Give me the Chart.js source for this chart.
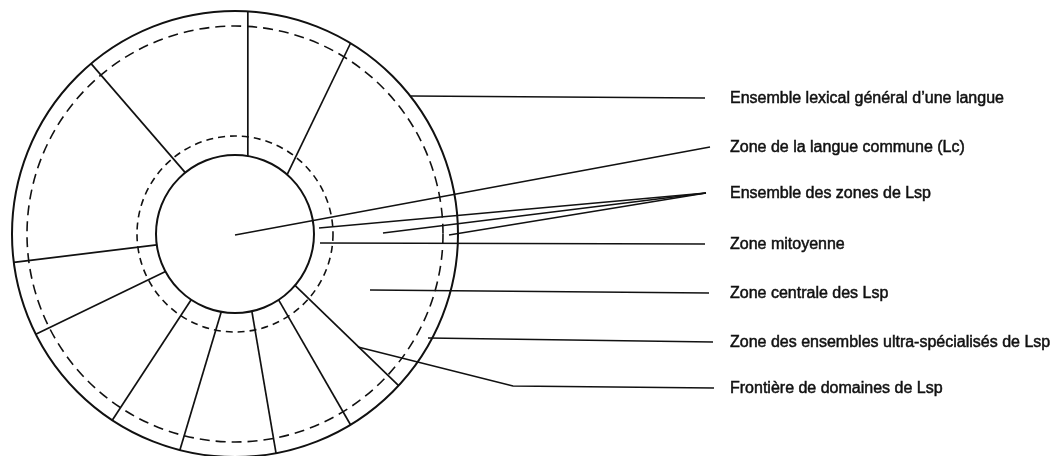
<!DOCTYPE html>
<html>
<head>
<meta charset="utf-8">
<script src="https://cdn.jsdelivr.net/npm/chart.js@4.4.1/dist/chart.umd.min.js"></script>
<style>
  html, body { margin: 0; padding: 0; background: #ffffff; }
  #diagram { display: block; }
</style>
</head>
<body>
<canvas id="diagram" width="1064" height="456"></canvas>
<script>
// Lexical field diagram: rings, domain boundaries and labelled leader lines

// ring radii (centre at 0,0): inner solid, inner dashed, outer dashed, outer solid
const ringRadii = [79, 98, 208, 223];
const ringDashed = [false, true, true, false];

// domain boundaries: angle (deg) where each meets the inner and the outer ring
const boundaryInnerAngles = [80.8, 48.7, 129.0, 187.9, 208.4, 236.3, 260.0, 282.3, 303.5, 319.4];
const boundaryOuterAngles = [86.7, 58.8, 130.2, 187.3, 206.7, 236.6, 255.7, 280.6, 301.2, 317.2];

// labels on the right and where their leader lines end
const labelTexts = [
    'Ensemble lexical général d\u2019une langue',
    'Zone de la langue commune (Lc)',
    'Ensemble des zones de Lsp',
    'Zone mitoyenne',
    'Zone centrale des Lsp',
    'Zone des ensembles ultra-spécialisés de Lsp',
    'Frontière de domaines de Lsp'
];
const leaderEndX = [470, 475, 471, 470, 474, 478, 479];
const leaderEndY = [136, 87, 41, -10, -59, -108, -154];

// leader lines: start point in the diagram, which label they go to, optional elbow
const leaderFromX = [176, 0, 84, 148, 214, 85, 135, 193, 123];
const leaderFromY = [138, -1, 6, 1, -1, -9, -56, -104, -113];
const leaderLabel = [0, 1, 2, 2, 2, 3, 4, 5, 6];
const leaderElbowX = [null, null, null, null, null, null, null, null, 278];
const leaderElbowY = [null, null, null, null, null, null, null, null, -152];

const INK = '#111111';

function polar(radius, deg) {
    const a = deg * Math.PI / 180;
    return { x: radius * Math.cos(a), y: radius * Math.sin(a) };
}

/**
 * Build line datasets for boundaries and leaders
 */
function buildDatasets() {
    const sets = [];
    const rIn = ringRadii[0];
    const rOut = ringRadii[ringRadii.length - 1];

    boundaryInnerAngles.forEach((a, i) => {
        sets.push({
            data: [polar(rIn, a), polar(rOut, boundaryOuterAngles[i])],
            borderColor: INK,
            borderWidth: 1.7
        });
    });

    leaderFromX.forEach((x, i) => {
        const lbl = leaderLabel[i];
        const pts = [{ x: x, y: leaderFromY[i] }];
        if (leaderElbowX[i] !== null) {
            pts.push({ x: leaderElbowX[i], y: leaderElbowY[i] });
        }
        pts.push({ x: leaderEndX[lbl], y: leaderEndY[lbl] });
        sets.push({
            data: pts,
            borderColor: INK,
            borderWidth: 1.6
        });
    });

    return sets;
}

// rings drawn through the scales
const ringPlugin = {
    id: 'rings',
    beforeDatasetsDraw(chart) {
        const { ctx, scales: { x, y } } = chart;
        const cx = x.getPixelForValue(0);
        const cy = y.getPixelForValue(0);
        ctx.save();
        ctx.strokeStyle = INK;
        ringRadii.forEach((r, i) => {
            const rp = x.getPixelForValue(r) - cx;
            ctx.beginPath();
            ctx.lineWidth = ringDashed[i] ? 1.6 : 2;
            ctx.setLineDash(ringDashed[i] ? (i === 1 ? [7, 5] : [10, 6]) : []);
            ctx.arc(cx, cy, rp, 0, Math.PI * 2);
            ctx.stroke();
        });
        ctx.restore();
    }
};

// label texts next to the leader ends
const labelPlugin = {
    id: 'labels',
    afterDatasetsDraw(chart) {
        const { ctx, scales: { x, y } } = chart;
        ctx.save();
        ctx.fillStyle = INK;
        ctx.strokeStyle = INK;
        ctx.lineWidth = 0.5;
        ctx.font = '16px "Liberation Sans", Arial, sans-serif';
        ctx.textBaseline = 'middle';
        ctx.textAlign = 'left';
        labelTexts.forEach((t, i) => {
            const px = x.getPixelForValue(495);
            const py = y.getPixelForValue(leaderEndY[i]) + 1;
            ctx.fillText(t, px, py);
            ctx.strokeText(t, px, py);
        });
        ctx.restore();
    }
};

window.diagramChart = new Chart(document.getElementById('diagram'), {
    type: 'scatter',
    data: { datasets: buildDatasets() },
    options: {
        responsive: false,
        animation: false,
        layout: { padding: 0 },
        elements: {
            point: { radius: 0, hoverRadius: 0 },
            line: { tension: 0 }
        },
        datasets: { scatter: { showLine: true } },
        scales: {
            x: { type: 'linear', min: -235, max: 829, display: false },
            y: { type: 'linear', min: -222, max: 234, display: false }
        },
        plugins: {
            legend: { display: false },
            tooltip: { enabled: false }
        }
    },
    plugins: [ringPlugin, labelPlugin]
});
</script>
</body>
</html>
